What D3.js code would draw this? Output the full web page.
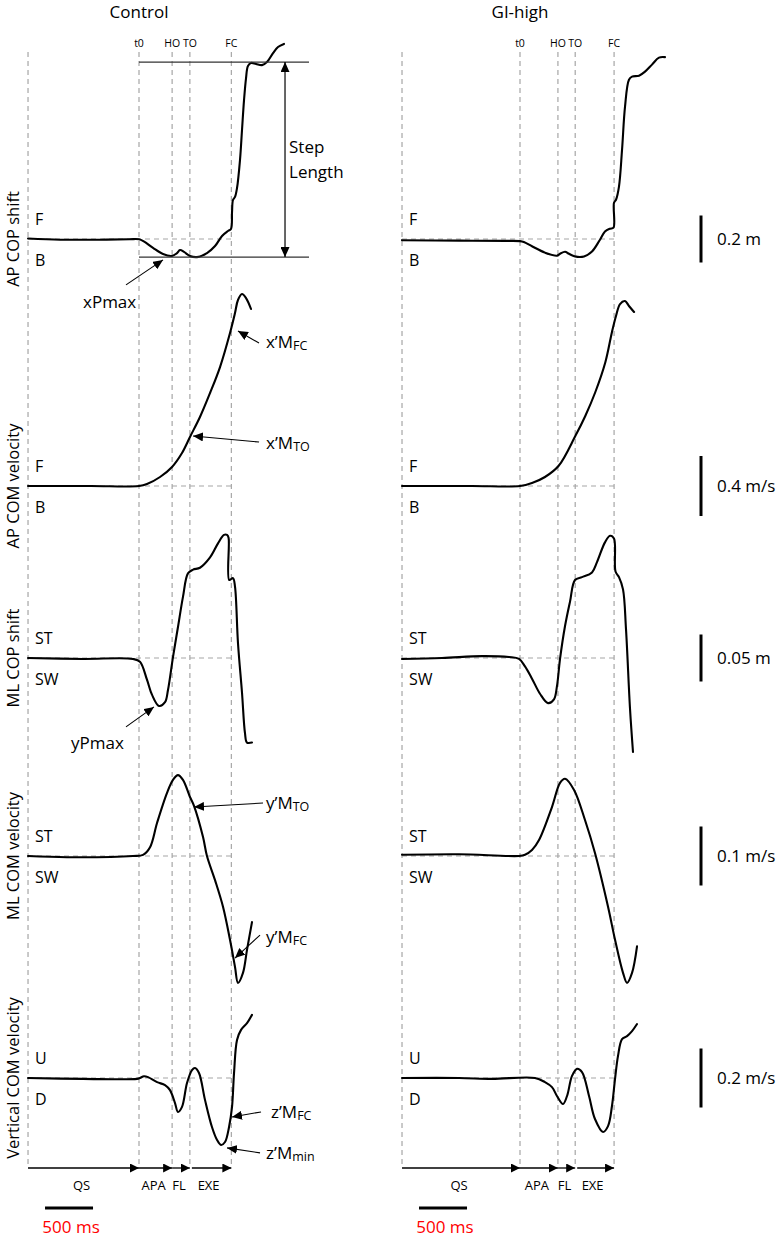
<!DOCTYPE html>
<html><head><meta charset="utf-8">
<script src="https://cdn.jsdelivr.net/npm/d3@7"></script>
<style>body{margin:0;background:#fff} svg{display:block;font-family:"Open Sans",sans-serif}</style>
</head><body><svg id="c" width="784" height="1240"></svg>
<script>
// ---------------- DATA ----------------
const panelTitles = ["Control", "GI-high"];
const rowLabels = ["AP COP shift", "AP COM velocity", "ML COP shift", "ML COM velocity", "Vertical COM velocity"];
const upperLabels = ["F", "F", "ST", "ST", "U"];
const lowerLabels = ["B", "B", "SW", "SW", "D"];
const scaleBarValues = [0.2, 0.4, 0.05, 0.1, 0.2];
const scaleBarLabels = ["0.2 m", "0.4 m/s", "0.05 m", "0.1 m/s", "0.2 m/s"];
const eventNames = ["t0", "HO", "TO", "FC"];
const phaseNames = ["QS", "APA", "FL", "EXE"];
const timeBarMs = 500;
const timeBarLabel = "500 ms";

// times in ms relative to t0
const controlStart = -1156;
const controlEventTimes = [0, 345, 530, 962];
const giStart = -1229;
const giEventTimes = [0, 395, 575, 980];

// [time ms, value]
const controlApCop = [[-1156,0.002],[-823,-0.003],[-406,-0.003],[-100,-0.001],[0,-0.001],[50,-0.010],[146,-0.038],[250,-0.064],[344,-0.072],[396,-0.060],[427,-0.047],[469,-0.055],[531,-0.072],[604,-0.077],[708,-0.060],[792,-0.030],[865,0.013],[927,0.034],[958,0.043],[969,0.115],[979,0.166],[1000,0.179],[1021,0.217],[1052,0.336],[1073,0.464],[1094,0.591],[1115,0.685],[1135,0.736],[1167,0.749],[1219,0.745],[1281,0.740],[1333,0.753],[1396,0.791],[1448,0.817],[1510,0.830]];
const controlApCom = [[-1156,0],[-500,0],[0,0],[83,0.013],[219,0.060],[344,0.127],[448,0.220],[531,0.327],[635,0.460],[740,0.620],[844,0.793],[948,1.020],[1000,1.153],[1031,1.240],[1073,1.280],[1115,1.253],[1167,1.180]];
const controlMlCop = [[-1156,0],[-583,-0.001],[-63,-0.001],[10,-0.004],[83,-0.023],[135,-0.039],[208,-0.051],[271,-0.047],[302,-0.034],[354,0.001],[406,0.033],[458,0.065],[510,0.090],[563,0.094],[635,0.096],[740,0.107],[823,0.122],[885,0.131],[917,0.131],[933,0.128],[940,0.083],[979,0.085],[1000,0.076],[1031,0.016],[1073,-0.037],[1104,-0.080],[1125,-0.090],[1177,-0.090]];
const controlMlCom = [[-1156,0],[-750,-0.002],[-63,0],[42,0.002],[115,0.015],[188,0.056],[292,0.107],[354,0.129],[406,0.137],[458,0.129],[531,0.100],[573,0.085],[667,0.032],[708,0],[792,-0.041],[875,-0.086],[948,-0.142],[1000,-0.188],[1031,-0.215],[1083,-0.198],[1125,-0.159],[1177,-0.112]];
const controlVert = [[-1156,0],[-583,-0.003],[-21,-0.003],[10,0],[52,0.006],[94,0.003],[188,-0.014],[271,-0.024],[323,-0.041],[375,-0.085],[406,-0.115],[448,-0.098],[500,-0.017],[552,0.027],[583,0.034],[625,0.017],[688,-0.075],[760,-0.166],[813,-0.210],[854,-0.227],[896,-0.217],[938,-0.166],[969,-0.098],[990,0.017],[1021,0.129],[1063,0.163],[1125,0.186],[1177,0.214]];

const giApCop = [[-1229,-0.005],[-625,-0.007],[-150,-0.008],[0,-0.009],[40,-0.013],[125,-0.031],[260,-0.058],[385,-0.071],[417,-0.063],[469,-0.054],[510,-0.063],[573,-0.074],[667,-0.074],[750,-0.053],[833,-0.003],[885,0.032],[938,0.044],[974,0.048],[979,0.154],[1000,0.167],[1031,0.223],[1063,0.380],[1094,0.563],[1135,0.678],[1167,0.691],[1240,0.695],[1302,0.712],[1375,0.742],[1448,0.772],[1510,0.774]];
const giApCom = [[-1229,0],[-500,0],[0,0],[125,0.020],[260,0.060],[403,0.135],[576,0.333],[680,0.467],[784,0.625],[889,0.825],[958,1.027],[1000,1.133],[1042,1.213],[1094,1.233],[1135,1.200],[1188,1.160]];
const giMlCop = [[-1229,-0.001],[-813,0],[-396,0.002],[-115,0.001],[-10,-0.001],[52,-0.009],[125,-0.022],[208,-0.038],[292,-0.048],[354,-0.044],[385,-0.030],[417,-0.001],[469,0.034],[521,0.060],[573,0.083],[646,0.086],[750,0.091],[802,0.102],[885,0.123],[938,0.130],[979,0.127],[995,0.092],[1031,0.086],[1073,0.073],[1104,0.031],[1146,-0.054],[1177,-0.100]];
const giMlCom = [[-1229,0.002],[-635,0.003],[-10,0],[52,0.002],[125,0.010],[198,0.027],[333,0.083],[417,0.124],[469,0.131],[563,0.112],[677,0.061],[781,0.005],[917,-0.086],[990,-0.142],[1073,-0.198],[1115,-0.215],[1167,-0.198],[1219,-0.153]];
const giVert = [[-1229,0],[-635,0],[-292,-0.003],[156,0],[260,-0.014],[333,-0.031],[385,-0.061],[448,-0.088],[490,-0.061],[542,0.007],[594,0.031],[646,0.020],[719,-0.061],[781,-0.139],[865,-0.183],[917,-0.163],[958,-0.095],[990,-0.003],[1021,0.075],[1063,0.132],[1115,0.142],[1167,0.159],[1219,0.183]];

// step length annotation (control, AP COP): levels and time extent
const stepLengthLevels = [0.753, -0.077];
const stepLengthTimes = [0, 1771];
const stepArrowTime = 1521;

// annotations: row, text, subscript, target [time, value]
const annotRows = [0, 1, 1, 2, 3, 3, 4, 4];
const annotTexts = ["xPmax", "x’M", "x’M", "yPmax", "y’M", "y’M", "z’M", "z’M"];
const annotSubs = ["", "FC", "TO", "", "TO", "FC", "FC", "min"];
const annotTimes = [250, 1031, 563, 156, 573, 1000, 969, 917];
const annotValues = [-0.089, 1.033, 0.333, -0.052, 0.083, -0.173, -0.132, -0.237];

// ---------------- LAYOUT ----------------
const svg = d3.select("#c");
const PX_PER_MS = 0.096;
const rowBase = [239, 486, 658, 856, 1078];
const barPx = [47, 60, 47, 59, 59];
const topY = 52, axisY = 1168;
const annotTail = [[-37,25],[21,12],[66,6],[-28,20],[69,-4],[25,-23],[29,-5],[33,5]];
const annotLabel = [[-80,42],[28,11],[73,7],[-83,36],[72,-4],[31,-21],[39,-5],[39,5]];

const panels = [
  {t0x: 139, start: controlStart, events: controlEventTimes, curves: [controlApCop, controlApCom, controlMlCop, controlMlCom, controlVert], main: true},
  {t0x: 520, start: giStart, events: giEventTimes, curves: [giApCop, giApCom, giMlCop, giMlCom, giVert], main: false}
];

const yScales = rowBase.map((b, i) => d3.scaleLinear().domain([0, scaleBarValues[i]]).range([b, b - barPx[i]]));

const defs = svg.append("defs");
function marker(id, len, wid) {
  defs.append("marker").attr("id", id).attr("markerUnits", "userSpaceOnUse")
    .attr("markerWidth", len).attr("markerHeight", wid).attr("refX", len).attr("refY", wid / 2)
    .attr("orient", "auto-start-reverse")
    .append("path").attr("d", `M0,0L${len},${wid/2}L0,${wid}Z`).attr("fill", "#000");
}
marker("ah", 10, 9);
marker("ph", 9, 9);

const line = d3.line().curve(d3.curveCatmullRom.alpha(0.5));
const DASH = "#a6a6a6";

panels.forEach((p, pi) => {
  const x = d3.scaleLinear().domain([0, 1000]).range([p.t0x, p.t0x + 1000 * PX_PER_MS]);
  const g = svg.append("g");
  const allEvents = [p.start].concat(p.events);
  const fcT = p.events[3];

  g.append("text").attr("x", x(0)).attr("y", 18).attr("text-anchor", "middle")
    .attr("font-size", 17).text(panelTitles[pi]);

  p.events.forEach((t, i) => {
    g.append("text").attr("x", x(t)).attr("y", 47).attr("text-anchor", "middle")
      .attr("font-size", 10.5).text(eventNames[i]);
  });

  allEvents.forEach(t => {
    g.append("line").attr("x1", x(t)).attr("x2", x(t)).attr("y1", topY).attr("y2", axisY)
      .attr("stroke", DASH).attr("stroke-width", 1.2).attr("stroke-dasharray", "5,4");
  });

  p.curves.forEach((data, r) => {
    const y = yScales[r];
    g.append("line").attr("x1", x(p.start)).attr("x2", x(fcT)).attr("y1", y(0)).attr("y2", y(0))
      .attr("stroke", DASH).attr("stroke-width", 1.2).attr("stroke-dasharray", "5,4");
    g.append("text").attr("x", x(p.start) + 7).attr("y", y(0) - 20).attr("dy", "0.36em")
      .attr("font-size", 16).text(upperLabels[r]);
    g.append("text").attr("x", x(p.start) + 7).attr("y", y(0) + 21).attr("dy", "0.36em")
      .attr("font-size", 16).text(lowerLabels[r]);
    g.append("path").attr("d", line(data.map(d => [x(d[0]), y(d[1])])))
      .attr("fill", "none").attr("stroke", "#000").attr("stroke-width", 2.1)
      .attr("stroke-linejoin", "round").attr("stroke-linecap", "round");
    if (p.main) {
      g.append("text").attr("transform", `translate(18.5,${y(0)}) rotate(-90)`)
        .attr("text-anchor", "middle").attr("font-size", 16.5).text(rowLabels[r]);
    } else {
      const sx = 701;
      g.append("line").attr("x1", sx).attr("x2", sx)
        .attr("y1", y(-scaleBarValues[r] / 2)).attr("y2", y(scaleBarValues[r] / 2))
        .attr("stroke", "#000").attr("stroke-width", 3);
      g.append("text").attr("x", 717).attr("y", y(0)).attr("dy", "0.36em")
        .attr("font-size", 17).text(scaleBarLabels[r]);
    }
  });

  for (let i = 0; i < 4; i++) {
    const a = allEvents[i], b = allEvents[i + 1];
    const x1 = x(a) + (i === 3 ? 2 : 0), x2 = x(b);
    g.append("line").attr("x1", x1).attr("x2", x2).attr("y1", axisY).attr("y2", axisY)
      .attr("stroke", "#000").attr("stroke-width", 1.3).attr("marker-end", "url(#ph)");
    g.append("text").attr("x", (x(a) + x(b)) / 2 - 2).attr("y", axisY + 22)
      .attr("text-anchor", "middle").attr("font-size", 13).text(phaseNames[i]);
  }

  const bx = x(p.start) + 17;
  g.append("line").attr("x1", bx).attr("x2", bx + (x(timeBarMs) - x(0))).attr("y1", 1208).attr("y2", 1208)
    .attr("stroke", "#000").attr("stroke-width", 3);
  g.append("text").attr("x", bx + (x(timeBarMs) - x(0)) / 2 + 2).attr("y", 1233).attr("text-anchor", "middle")
    .attr("font-size", 17).attr("fill", "#ff0000").text(timeBarLabel);

  if (p.main) {
    const y = yScales[0];
    stepLengthLevels.forEach(v => {
      g.append("line").attr("x1", x(stepLengthTimes[0])).attr("x2", x(stepLengthTimes[1]))
        .attr("y1", y(v)).attr("y2", y(v)).attr("stroke", "#333").attr("stroke-width", 1.2);
    });
    g.append("line").attr("x1", x(stepArrowTime)).attr("x2", x(stepArrowTime))
      .attr("y1", y(stepLengthLevels[0])).attr("y2", y(stepLengthLevels[1]))
      .attr("stroke", "#000").attr("stroke-width", 1.2)
      .attr("marker-start", "url(#ah)").attr("marker-end", "url(#ah)");
    const midY = (y(stepLengthLevels[0]) + y(stepLengthLevels[1])) / 2;
    g.append("text").attr("x", x(stepArrowTime) + 4).attr("y", midY - 12.5).attr("dy", "0.36em")
      .attr("font-size", 17).text("Step");
    g.append("text").attr("x", x(stepArrowTime) + 4).attr("y", midY + 12.5).attr("dy", "0.36em")
      .attr("font-size", 17).text("Length");

    annotRows.forEach((r, i) => {
      const tx = x(annotTimes[i]), ty = yScales[r](annotValues[i]);
      g.append("line").attr("x1", tx + annotTail[i][0]).attr("y1", ty + annotTail[i][1])
        .attr("x2", tx).attr("y2", ty).attr("stroke", "#000").attr("stroke-width", 1.1)
        .attr("marker-end", "url(#ah)");
      const t = g.append("text").attr("x", tx + annotLabel[i][0]).attr("y", ty + annotLabel[i][1] + 6)
        .attr("font-size", 17);
      t.append("tspan").text(annotTexts[i]);
      if (annotSubs[i]) t.append("tspan").attr("font-size", 12.5).attr("dy", 2).text(annotSubs[i]);
    });
  }
});
</script></body></html>
